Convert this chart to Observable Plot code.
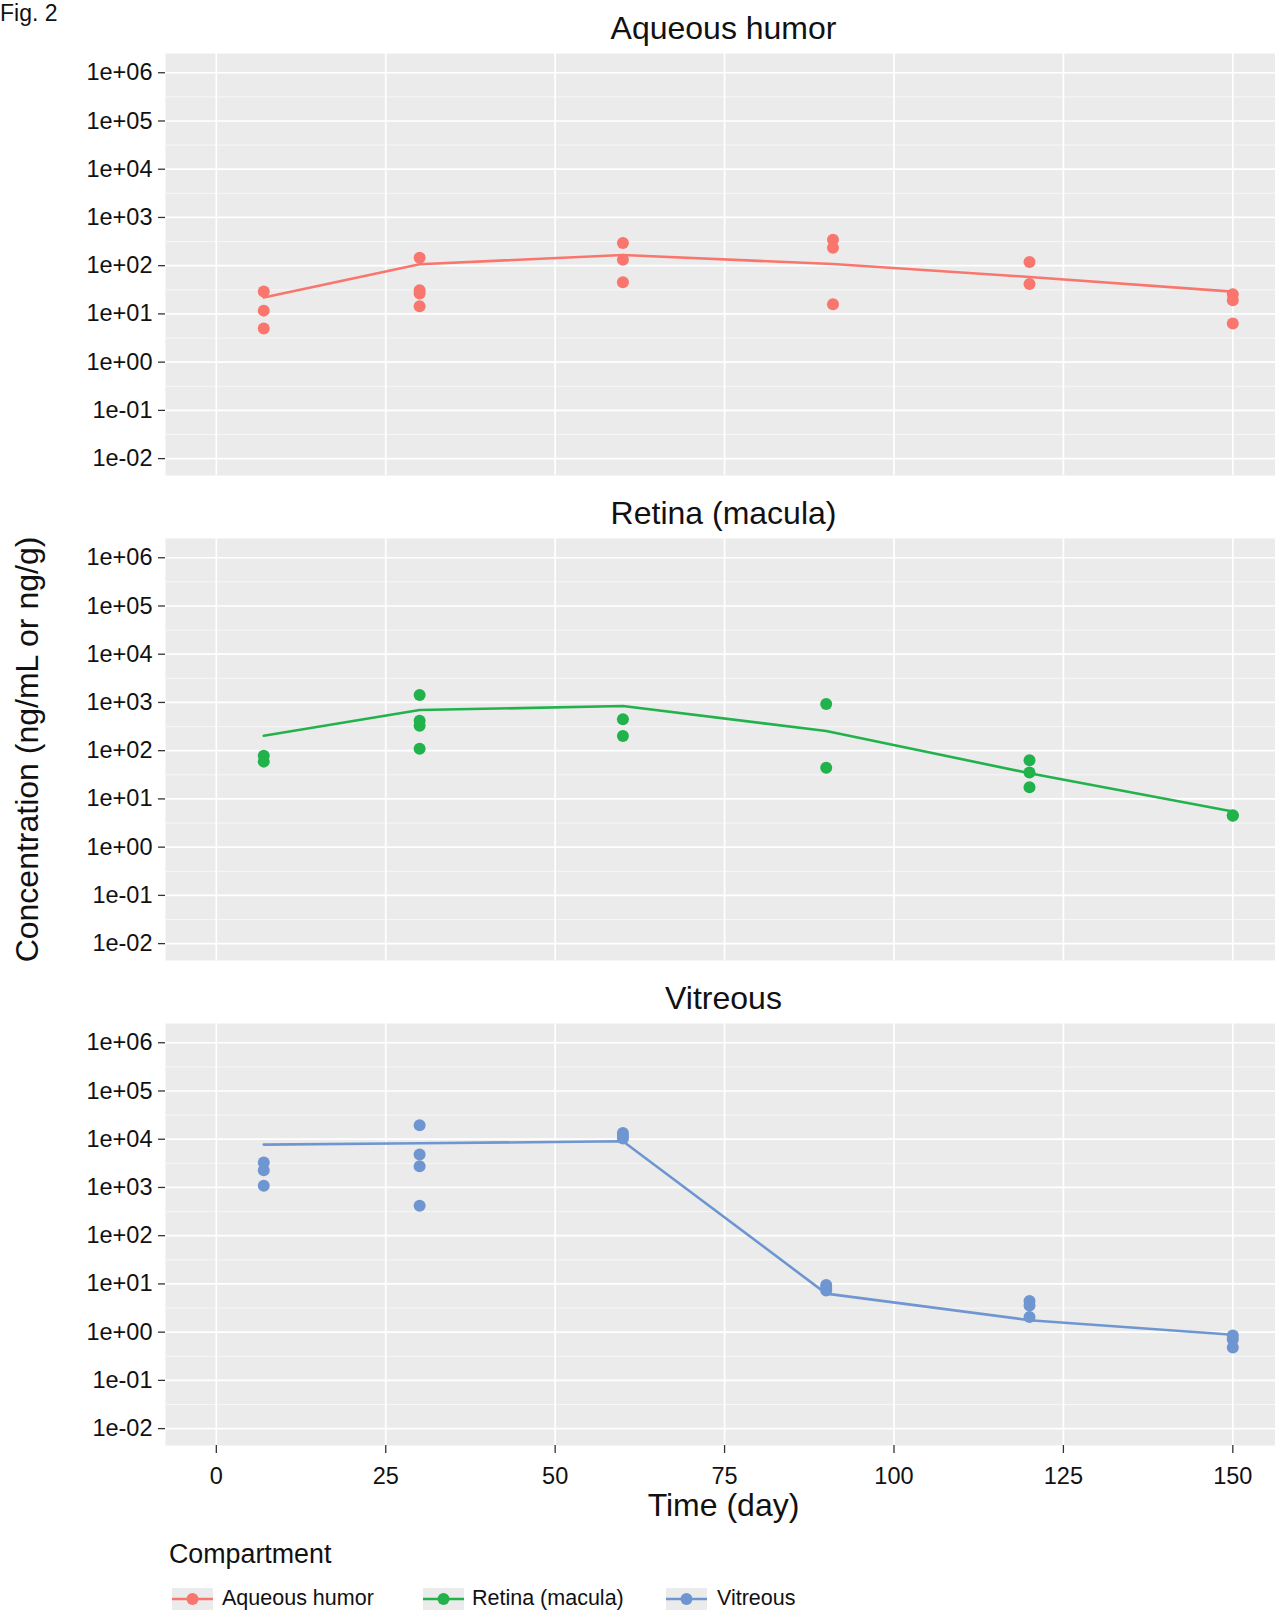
<!DOCTYPE html>
<html>
<head>
<meta charset="utf-8">
<script src="https://cdn.jsdelivr.net/npm/d3@7"></script>
<script src="https://cdn.jsdelivr.net/npm/@observablehq/plot@0.6"></script>
<style>
  body { margin: 0; background: #fff; font-family: "Liberation Sans", Arial, Helvetica, sans-serif; }
  #wrap { position: relative; width: 1275px; height: 1614px; overflow: hidden; background: #fff; }
  #wrap > svg { position: absolute; left: 0; top: 0; }
  .abs { position: absolute; white-space: nowrap; color: #111; }
</style>
</head>
<body>
<div id="wrap"></div>
<script>
// ---------------- data ----------------
const compartments = ["Aqueous humor", "Retina (macula)", "Vitreous"];
const colors = ["#F8766D", "#22B24C", "#6F96D1"];

// observed points
const aqueousDays = [7, 7, 7, 30, 30, 30, 30, 60, 60, 60, 91, 91, 91, 120, 120, 150, 150, 150];
const aqueousConc = [29.0, 11.7, 5.0, 146, 31.0, 26.4, 14.5, 294, 133, 45.4, 345, 236, 15.9, 119, 41.9, 25.6, 19.2, 6.3];

const retinaDays = [7, 7, 30, 30, 30, 30, 60, 60, 90, 90, 120, 120, 120, 150, 150];
const retinaConc = [78.8, 59.3, 1419, 417, 329, 110, 446, 201, 925, 44.5, 63.3, 35.1, 17.5, 4.6, 4.5];

const vitreousDays = [7, 7, 7, 30, 30, 30, 30, 60, 60, 60, 90, 90, 90, 120, 120, 120, 150, 150, 150];
const vitreousConc = [3281, 2275, 1081, 19400, 4808, 2754, 417, 13500, 11800, 10300, 9.5, 8.2, 7.3, 4.44, 3.56, 2.07, 0.855, 0.716, 0.482];

// fitted / summary lines
const aqueousLineDays = [7, 30, 60, 91, 120, 150];
const aqueousLine = [21.8, 107, 166, 108, 58.4, 29.0];
const retinaLineDays = [7, 30, 60, 90, 120, 150];
const retinaLine = [204, 695, 841, 255, 34.1, 5.47];
const vitreousLineDays = [7, 30, 60, 90, 120, 150];
const vitreousLine = [7730, 8230, 9050, 6.3, 1.77, 0.88];

// axes
const xTicks = [0, 25, 50, 75, 100, 125, 150];
const yTicks = [1e-2, 1e-1, 1e0, 1e1, 1e2, 1e3, 1e4, 1e5, 1e6];
const yTickLabels = ["1e-02", "1e-01", "1e+00", "1e+01", "1e+02", "1e+03", "1e+04", "1e+05", "1e+06"];
const xTitle = "Time (day)";
const yTitle = "Concentration (ng/mL or ng/g)";
const legendTitle = "Compartment";
const figLabel = "Fig. 2";

// ---------------- tables ----------------
const obsDays = [aqueousDays, retinaDays, vitreousDays];
const obsConc = [aqueousConc, retinaConc, vitreousConc];
const lineDays = [aqueousLineDays, retinaLineDays, vitreousLineDays];
const lineConc = [aqueousLine, retinaLine, vitreousLine];

const points = [];
const lines = [];
compartments.forEach((c, i) => {
  obsDays[i].forEach((d, j) => points.push({comp: c, day: d, conc: obsConc[i][j]}));
  lineDays[i].forEach((d, j) => lines.push({comp: c, day: d, conc: lineConc[i][j]}));
});
const yMinor = yTicks.slice(0, -1).map(v => v * Math.sqrt(10));

const FONT = "Liberation Sans, Arial, Helvetica, sans-serif";

const plot = Plot.plot({
  width: 1275,
  height: 1530,
  marginLeft: 165,
  marginRight: 0,
  marginTop: 52,
  marginBottom: 83.3,
  style: {fontFamily: FONT, background: "transparent", color: "#111"},
  x: {domain: [-7.5, 156.3]},
  y: {type: "log", domain: [Math.pow(10, -2.35), Math.pow(10, 6.399)]},
  fy: {domain: compartments, paddingInner: 0.1294, paddingOuter: 0, axis: null},
  color: {domain: compartments, range: colors},
  marks: [
    Plot.frame({fill: "#EBEBEB", stroke: null}),
    Plot.gridY(yMinor, {stroke: "#F7F7F7", strokeOpacity: 1, strokeWidth: 1}),
    Plot.gridY(yTicks, {stroke: "#FFFFFF", strokeOpacity: 1, strokeWidth: 1.7}),
    Plot.gridX(xTicks, {stroke: "#FFFFFF", strokeOpacity: 1, strokeWidth: 1.7}),
    Plot.line(lines, {x: "day", y: "conc", fy: "comp", stroke: "comp", strokeWidth: 2.6}),
    Plot.dot(points, {x: "day", y: "conc", fy: "comp", fill: "comp", r: 6, stroke: null}),
    Plot.axisY(yTicks, {
      tickFormat: d => yTickLabels[yTicks.indexOf(d)],
      tickSize: 7, tickPadding: 6, fontSize: 23.5, label: null,
      stroke: "#333", strokeWidth: 1.3, fill: "#111"
    }),
    Plot.axisX(xTicks, {
      tickSize: 8, tickPadding: 13.5, fontSize: 23.5, label: null,
      stroke: "#333", strokeWidth: 1.3, fill: "#111"
    }),
    Plot.text(compartments, {
      fy: d => d, text: d => d, frameAnchor: "top", lineAnchor: "bottom", textAnchor: "middle",
      dy: -14.5, dx: 3, fontSize: 32, fill: "#111"
    }),
    Plot.text([compartments[1]], {
      fy: d => d, text: () => yTitle, frameAnchor: "left", rotate: -90, textAnchor: "middle",
      lineAnchor: "bottom", dx: -128, fontSize: 32, fill: "#111"
    }),
    Plot.text([compartments[2]], {
      fy: d => d, text: () => xTitle, frameAnchor: "bottom", lineAnchor: "bottom", textAnchor: "middle",
      dy: 70, dx: 3, fontSize: 32, fill: "#111"
    })
  ]
});

const wrap = document.getElementById("wrap");
wrap.appendChild(plot);

// Fig label
const fig = document.createElement("div");
fig.className = "abs";
fig.textContent = figLabel;
fig.style.cssText += "left:0px;top:2px;font-size:23px;line-height:23px;";
wrap.appendChild(fig);

// legend
const lt = document.createElement("div");
lt.className = "abs";
lt.textContent = legendTitle;
lt.style.cssText += "left:169px;top:1541px;font-size:26.8px;line-height:26.8px;";
wrap.appendChild(lt);

const keyLeft = [172, 423, 666];
const labelLeft = [222, 472, 717];
compartments.forEach((c, i) => {
  const ns = "http://www.w3.org/2000/svg";
  const s = document.createElementNS(ns, "svg");
  s.setAttribute("width", 41);
  s.setAttribute("height", 22);
  s.style.cssText = `position:absolute;left:${keyLeft[i]}px;top:1588px;`;
  const r = document.createElementNS(ns, "rect");
  r.setAttribute("width", 41); r.setAttribute("height", 22); r.setAttribute("fill", "#EBEBEB");
  const l = document.createElementNS(ns, "line");
  l.setAttribute("x1", 0); l.setAttribute("x2", 41); l.setAttribute("y1", 11); l.setAttribute("y2", 11);
  l.setAttribute("stroke", colors[i]); l.setAttribute("stroke-width", 2.6);
  const ci = document.createElementNS(ns, "circle");
  ci.setAttribute("cx", 20.5); ci.setAttribute("cy", 11); ci.setAttribute("r", 6); ci.setAttribute("fill", colors[i]);
  s.append(r, l, ci);
  wrap.appendChild(s);
  const t = document.createElement("div");
  t.className = "abs";
  t.textContent = c;
  t.style.cssText += `left:${labelLeft[i]}px;top:1588px;font-size:21.5px;line-height:21.5px;`;
  wrap.appendChild(t);
});
</script>
</body>
</html>
